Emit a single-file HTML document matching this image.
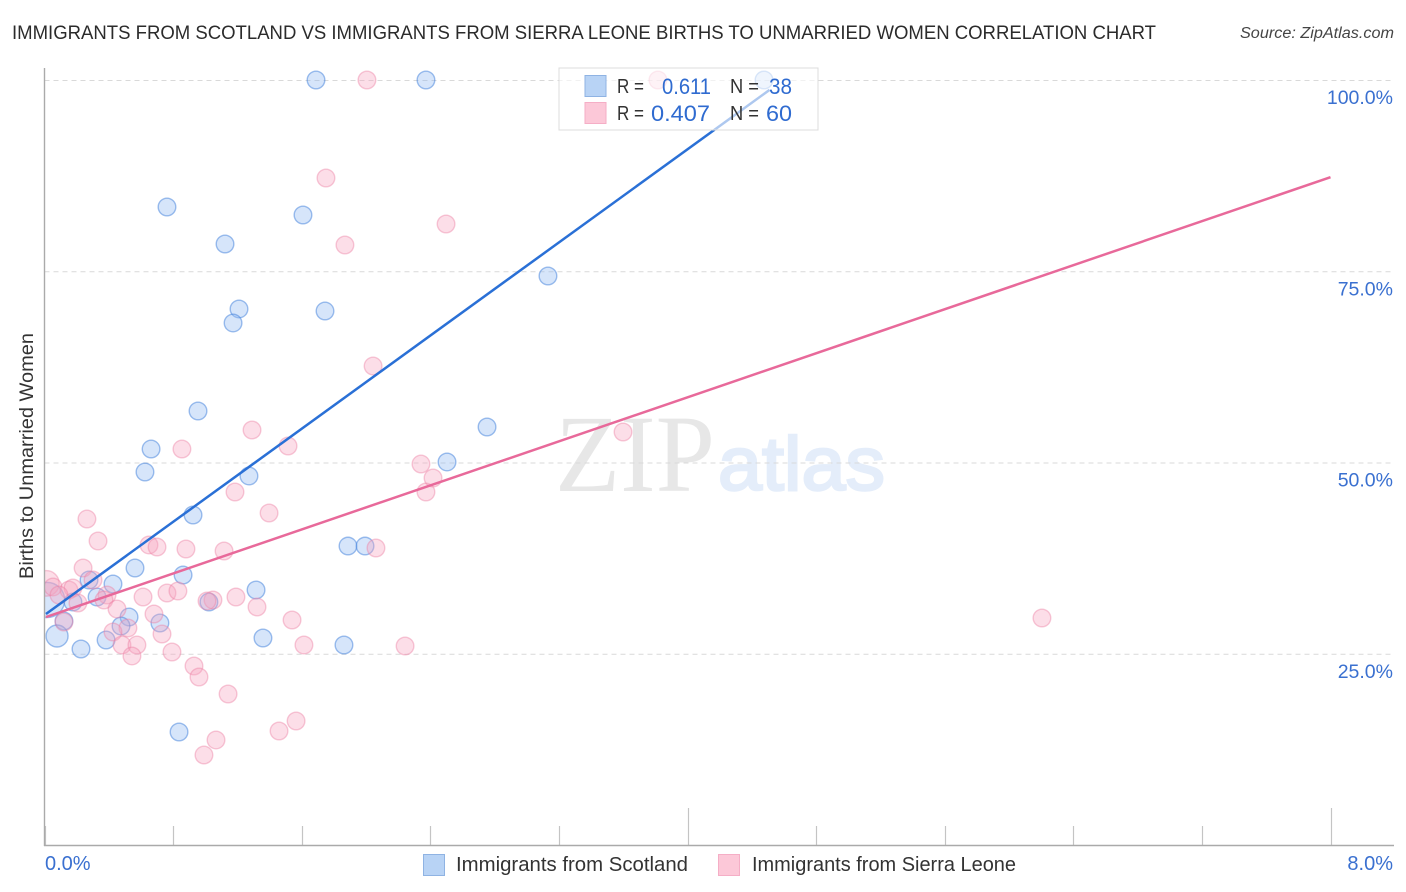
<!DOCTYPE html>
<html lang="en">
<head>
<meta charset="utf-8">
<title>Immigrants from Scotland vs Immigrants from Sierra Leone Births to Unmarried Women Correlation Chart</title>
<style>
html,body{margin:0;padding:0;background:#fff;}
svg{display:block;}
text{font-family:"Liberation Sans",sans-serif;}
</style>
</head>
<body>
<svg id="chart" xmlns="http://www.w3.org/2000/svg" width="1406" height="892" viewBox="0 0 1406 892">
  <defs>
    <clipPath id="plot-clip"><rect x="44.5" y="60" width="1350" height="785"></rect></clipPath>
  </defs>
  <text x="12" y="39" font-size="19.5" fill="#2b2b2b" textLength="1144" lengthAdjust="spacingAndGlyphs">IMMIGRANTS FROM SCOTLAND VS IMMIGRANTS FROM SIERRA LEONE BIRTHS TO UNMARRIED WOMEN CORRELATION CHART</text>
  <text x="1240" y="38" font-size="15.5" font-style="italic" fill="#444" textLength="154" lengthAdjust="spacingAndGlyphs">Source: ZipAtlas.com</text>
  <text transform="translate(33,456) rotate(-90)" text-anchor="middle" font-size="19" fill="#333" textLength="246" lengthAdjust="spacingAndGlyphs">Births to Unmarried Women</text>

  <g>
    <text x="555" y="491" font-size="110" fill="#e7e7e7" textLength="160" lengthAdjust="spacingAndGlyphs" style="font-family:'Liberation Serif',serif">ZIP</text>
    <text x="718" y="490" font-size="76" fill="#e4edfa" stroke="#e4edfa" stroke-width="2.5" textLength="167" lengthAdjust="spacingAndGlyphs">atlas</text>
  </g>

  <g id="grid"></g>
  <g id="points" clip-path="url(#plot-clip)"></g>
  <g id="trends"></g>
  <g id="axes"></g>

  <g>
    <rect x="559" y="68" width="259" height="62" fill="#fff" fill-opacity="0.62" stroke="#dcdcdc" stroke-width="1"></rect>
    <rect x="585" y="75.5" width="21" height="21" fill="#b8d3f5" stroke="#8fb3e3" stroke-width="1"></rect>
    <rect x="585" y="102.5" width="21" height="21" fill="#fcc8d8" stroke="#f5aec6" stroke-width="1"></rect>
    <text x="617" y="93" font-size="20" fill="#333" textLength="27" lengthAdjust="spacingAndGlyphs">R =</text>
    <text x="662" y="94" font-size="22" fill="#2f6bd0" textLength="49" lengthAdjust="spacingAndGlyphs">0.611</text>
    <text x="730" y="93" font-size="20" fill="#333" textLength="29" lengthAdjust="spacingAndGlyphs">N =</text>
    <text x="769" y="94" font-size="22" fill="#2f6bd0" textLength="23" lengthAdjust="spacingAndGlyphs">38</text>
    <text x="617" y="120" font-size="20" fill="#333" textLength="27" lengthAdjust="spacingAndGlyphs">R =</text>
    <text x="651" y="121" font-size="22" fill="#2f6bd0" textLength="59" lengthAdjust="spacingAndGlyphs">0.407</text>
    <text x="730" y="120" font-size="20" fill="#333" textLength="29" lengthAdjust="spacingAndGlyphs">N =</text>
    <text x="766" y="121" font-size="22" fill="#2f6bd0" textLength="26" lengthAdjust="spacingAndGlyphs">60</text>
  </g>

  <g>
    <rect x="423.5" y="854.5" width="21" height="21" fill="#b8d3f5" stroke="#8fb3e3" stroke-width="1"></rect>
    <text x="456" y="871" font-size="20" fill="#333" textLength="232" lengthAdjust="spacingAndGlyphs">Immigrants from Scotland</text>
    <rect x="718.5" y="854.5" width="21" height="21" fill="#fcc8d8" stroke="#f5aec6" stroke-width="1"></rect>
    <text x="752" y="871" font-size="20" fill="#333" textLength="264" lengthAdjust="spacingAndGlyphs">Immigrants from Sierra Leone</text>
  </g>
</svg>
<script>
const xTickValues = [0, 0.8, 1.6, 2.4, 3.2, 4.0, 4.8, 5.6, 6.4, 7.2, 8.0];
const xMajorTicks = [4.0, 8.0];
const xEdgeLabels = ['0.0%', '8.0%'];
const xEdgeValues = [0, 8];
const yTickValues = [25, 50, 75, 100];
const yTickLabels = ['25.0%', '50.0%', '75.0%', '100.0%'];

const scotlandX = [1.689,2.373,4.476,0.762,1.608,1.123,3.132,1.210,1.745,1.173,0.955,2.753,0.663,0.625,2.504,1.272,0.924,1.888,1.994,0.563,0.862,0.277,0.426,1.316,0.327,0.177,1.023,0.016,0.526,0.121,0.718,0.476,0.383,1.359,0.078,1.863,0.227,0.837];
const scotlandY = [100,100,100,83.4,82.35,78.56,74.38,70.07,69.8,68.24,56.73,54.64,51.76,48.76,50.07,48.24,43.14,39.08,39.08,36.21,35.29,34.64,34.12,33.33,32.42,31.76,31.76,32.03,29.8,29.28,29.02,28.63,26.8,27.06,27.32,26.14,25.62,14.77];
const scotlandWeight = [1,1,1,1,1,1,1,1,1,1,1,1,1,1,1,1,1,1,1,1,1,1,1,1,1,1,1,5,1,1,1,1,1,1,2,1,1,1];

const sierraX = [2.006,3.816,1.751,2.498,1.869,2.044,1.291,3.599,0.855,1.515,2.342,2.373,2.417,1.185,1.397,0.264,0.333,0.650,0.700,0.880,1.117,2.062,0.240,0.302,0.012,0.053,0.152,0.177,0.090,0.389,0.370,0.208,0.613,0.762,0.830,1.191,1.048,1.011,1.322,0.451,0.681,0.121,1.540,0.519,0.426,0.731,0.482,0.575,1.614,2.243,0.793,0.544,0.930,0.961,1.142,1.565,1.459,1.067,0.992,6.205];
const sierraY = [100,100,87.19,81.18,78.43,62.61,54.25,53.99,51.76,52.16,49.8,46.14,47.97,46.14,43.4,42.61,39.74,39.22,38.95,38.69,38.43,38.82,36.21,34.64,34.2,33.73,33.33,33.59,32.68,32.68,32.03,31.63,32.42,32.94,33.2,32.42,32.03,31.9,31.11,30.85,30.2,29.15,29.41,28.37,27.84,27.58,26.14,26.14,26.14,26.01,25.23,24.71,23.4,21.96,19.74,16.21,14.9,13.73,11.76,29.67];
const sierraWeight = [1,1,1,1,1,1,1,1,1,1,1,1,1,1,1,1,1,1,1,1,1,1,1,1,2.8,1,1,1,1,1,1,1,1,1,1,1,1,1,1,1,1,1,1,1,1,1,1,1,1,1,1,1,1,1,1,1,1,1,1,1];

const scotlandTrendX = [0.009, 4.51];
const scotlandTrendY = [30.2, 98.7];
const sierraTrendX = [0.009, 8.0];
const sierraTrendY = [29.8, 87.3];

const NS = 'http://www.w3.org/2000/svg';
function xScale(v) { return 44.5 + v * 160.75; }
function yScale(v) { return 845 - v * 7.65; }
function radius(w) { return 8.8 + 2.2 * (w - 1); }
function make(tag, attrs) {
  const el = document.createElementNS(NS, tag);
  for (const k in attrs) el.setAttribute(k, attrs[k]);
  return el;
}

const grid = document.getElementById('grid');
const axes = document.getElementById('axes');
const points = document.getElementById('points');
const trends = document.getElementById('trends');

yTickValues.forEach(function (v, i) {
  const line = make('line', {x1: 44.5, x2: 1393, y1: yScale(v) + 0.5, y2: yScale(v) + 0.5, stroke: '#d9d9d9', 'stroke-width': 1, 'stroke-dasharray': '5 4'});
  
  
  grid.appendChild(line);
  const label = make('text', {x: 1393, y: yScale(v) + 24, 'text-anchor': 'end', 'font-size': 19.5, fill: '#3a70d0'});
  label.textContent = yTickLabels[i];
  
  
  axes.appendChild(label);
});

xTickValues.forEach(function (v) {
  const top = xMajorTicks.includes(v) ? 808 : 826;
  const tick = make('line', {x1: Math.round(xScale(v)) + 0.5, x2: Math.round(xScale(v)) + 0.5, y1: top, y2: 845, stroke: '#c4c4c4', 'stroke-width': 1.2});
  
  
  axes.appendChild(tick);
});

xEdgeValues.forEach(function (v, i) {
  const label = make('text', {x: i === 0 ? xScale(v) + 0.5 : 1393, y: 870, 'text-anchor': i === 0 ? 'start' : 'end', 'font-size': 20, fill: '#3a70d0'});
  label.textContent = xEdgeLabels[i];
  
  
  axes.appendChild(label);
});

const ySpine = make('line', {x1: 44.5, x2: 44.5, y1: 68, y2: 846, stroke: '#aaaaaa', 'stroke-width': 1.4});


axes.appendChild(ySpine);
const xSpine = make('line', {x1: 44, x2: 1394, y1: 845.5, y2: 845.5, stroke: '#aaaaaa', 'stroke-width': 1.4});


axes.appendChild(xSpine);

scotlandX.forEach(function (v, i) {
  const dot = make('circle', {cx: xScale(v), cy: yScale(scotlandY[i]), r: radius(scotlandWeight[i]), fill: '#8db8f0', 'fill-opacity': 0.36, stroke: '#3f7fdc', 'stroke-opacity': 0.5, 'stroke-width': 1.4});
  
  
  points.appendChild(dot);
});

sierraX.forEach(function (v, i) {
  const dot = make('circle', {cx: xScale(v), cy: yScale(sierraY[i]), r: radius(sierraWeight[i]), fill: '#f7a3bf', 'fill-opacity': 0.36, stroke: '#ec7ea2', 'stroke-opacity': 0.42, 'stroke-width': 1.4});
  
  
  points.appendChild(dot);
});

const blueTrend = make('line', {x1: xScale(scotlandTrendX[0]), y1: yScale(scotlandTrendY[0]), x2: xScale(scotlandTrendX[1]), y2: yScale(scotlandTrendY[1]), stroke: '#2a70d6', 'stroke-width': 2.5});


trends.appendChild(blueTrend);
const pinkTrend = make('line', {x1: xScale(sierraTrendX[0]), y1: yScale(sierraTrendY[0]), x2: xScale(sierraTrendX[1]), y2: yScale(sierraTrendY[1]), stroke: '#e8699a', 'stroke-width': 2.5});


trends.appendChild(pinkTrend);
</script>
</body>
</html>
